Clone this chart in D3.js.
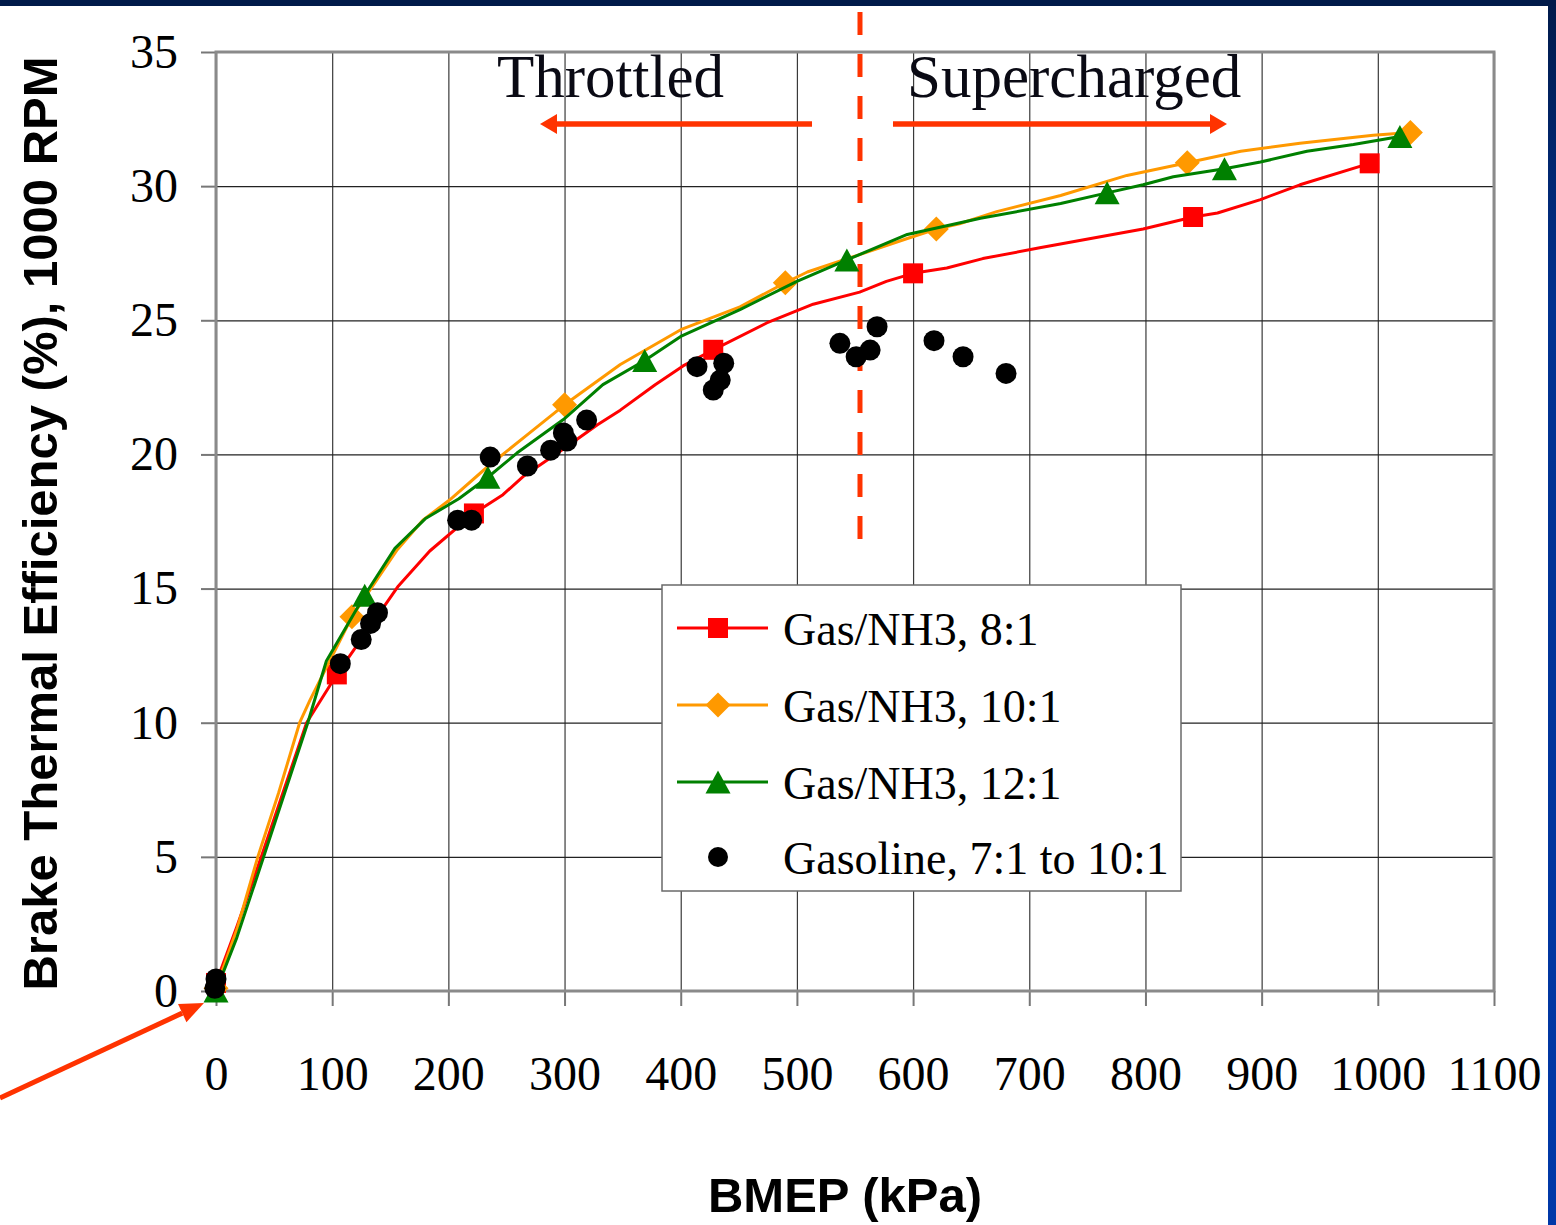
<!DOCTYPE html>
<html><head><meta charset="utf-8">
<script src="https://cdn.jsdelivr.net/npm/d3@7"></script>
<style>
html,body{margin:0;padding:0;background:#fff;}
svg{display:block;}
</style>
</head><body>
<svg id="c" width="1556" height="1225"></svg>
<script>
// ---- data ----
const xTicks = [0,100,200,300,400,500,600,700,800,900,1000,1100];
const yTicks = [0,5,10,15,20,25,30,35];

const seriesNames = ["Gas/NH3, 8:1","Gas/NH3, 10:1","Gas/NH3, 12:1","Gasoline, 7:1 to 10:1"];

const nh3_8_line = [[0,0.3],[18,2.4],[39,5],[78,10],[104,11.8],[157,15.1],[184,16.4],[222,17.8],[247,18.5],[265,19.2],[299,20.2],[328,21.1],[348,21.65],[378,22.6],[402,23.3],[428,23.9],[474,24.9],[514,25.6],[554,26.05],[577,26.45],[600,26.75],[629,26.95],[660,27.3],[709,27.7],[798,28.4],[841,28.85],[862,29.0],[899,29.5],[933,30.05],[993,30.85]];
const nh3_8_marks = [[0,0.3],[104,11.8],[222,17.8],[428,23.9],[600,26.75],[841,28.85],[993,30.85]];

const nh3_10_line = [[0,0.1],[18,2.3],[36,5],[54,7.4],[72,10],[81,10.85],[117,13.95],[156,16.45],[178,17.55],[201,18.3],[234,19.55],[267,20.7],[300,21.85],[348,23.35],[400,24.65],[451,25.5],[490,26.4],[509,26.8],[554,27.45],[595,28.05],[620,28.4],[640,28.6],[672,29.05],[727,29.65],[784,30.4],[836,30.87],[882,31.3],[933,31.6],[996,31.9],[1028,32.0]];
const nh3_10_marks = [[0,0.1],[117,13.95],[300,21.85],[490,26.4],[620,28.4],[836,30.87],[1028,32.0]];

const nh3_12_line = [[0,0],[18,2.0],[41,5],[79,10],[95,12.3],[128,14.75],[154,16.5],[180,17.6],[209,18.35],[234,19.15],[259,20.05],[299,21.3],[333,22.6],[369,23.5],[400,24.4],[451,25.4],[500,26.45],[543,27.25],[595,28.2],[658,28.8],[727,29.35],[767,29.75],[798,30.05],[824,30.35],[868,30.65],[899,30.9],[939,31.3],[979,31.55],[1019,31.85]];
const nh3_12_marks = [[0,0],[128,14.75],[234,19.15],[369,23.5],[543,27.25],[767,29.75],[868,30.65],[1019,31.85]];

const gasoline = [[0,0.45],[-1,0.1],[107,12.2],[125,13.1],[133,13.7],[139,14.1],[208,17.55],[220,17.55],[236,19.9],[268,19.57],[288,20.16],[299,20.8],[302,20.5],[319,21.28],[414,23.27],[437,23.4],[434,22.77],[428,22.4],[537,24.14],[551,23.64],[563,23.89],[569,24.76],[618,24.24],[643,23.64],[680,23.02]];

// annotation positions (data units)
const boundaryBMEP = 554.3;
const annotations = {throttled:"Throttled", supercharged:"Supercharged"};

// ---- drawing ----
const svg = d3.select("#c");
const L=216, R=1494, T=52, B=991;
const x = d3.scaleLinear().domain([0,1100]).range([L,R]);
const y = d3.scaleLinear().domain([0,35]).range([B,T]);
const ORANGE_RED = "#FF3300";

// frame decorations
const defs = svg.append("defs");
const grad = defs.append("linearGradient").attr("id","rg").attr("x1",0).attr("y1",0).attr("x2",0).attr("y2",1);
grad.append("stop").attr("offset","0").attr("stop-color","#001a4a");
grad.append("stop").attr("offset","0.25").attr("stop-color","#00318f");
grad.append("stop").attr("offset","1").attr("stop-color","#0038a8");
svg.append("rect").attr("x",0).attr("y",0).attr("width",1556).attr("height",1225).attr("fill","#fff");
svg.append("rect").attr("x",1548).attr("y",0).attr("width",8).attr("height",1225).attr("fill","url(#rg)");
svg.append("rect").attr("x",0).attr("y",0).attr("width",1556).attr("height",6).attr("fill","#001a4a");

// gridlines
svg.append("g").attr("transform",`translate(0,${B})`)
  .call(d3.axisBottom(x).tickValues(xTicks).tickSize(-(B-T)).tickFormat(""))
  .call(g=>{g.select(".domain").remove(); g.selectAll("line").attr("stroke","#3a3a3a").attr("stroke-width",1.2);});
svg.append("g").attr("transform",`translate(${L},0)`)
  .call(d3.axisLeft(y).tickValues(yTicks).tickSize(-(R-L)).tickFormat(""))
  .call(g=>{g.select(".domain").remove(); g.selectAll("line").attr("stroke","#222").attr("stroke-width",1.2);});

// axes with ticks and labels
const tickFont = "'Liberation Serif','Times New Roman',serif";
svg.append("g").attr("transform",`translate(0,${B})`)
  .call(d3.axisBottom(x).tickValues(xTicks).tickSizeInner(15).tickSizeOuter(0).tickPadding(50).tickFormat(d3.format("d")))
  .call(g=>{g.select(".domain").remove();
    g.selectAll("line").attr("stroke","#777").attr("stroke-width",2);
    g.selectAll("text").attr("font-family",tickFont).attr("font-size",48).attr("fill","#000");});
svg.append("g").attr("transform",`translate(${L},0)`)
  .call(d3.axisLeft(y).tickValues(yTicks).tickSizeInner(15).tickSizeOuter(0).tickPadding(23).tickFormat(d3.format("d")))
  .call(g=>{g.select(".domain").remove();
    g.selectAll("line").attr("stroke","#777").attr("stroke-width",2);
    g.selectAll("text").attr("font-family",tickFont).attr("font-size",48).attr("fill","#000");});

// plot frame
svg.append("rect").attr("x",L).attr("y",T).attr("width",R-L).attr("height",B-T)
  .attr("fill","none").attr("stroke","#8a8a8a").attr("stroke-width",3);

// axis titles
svg.append("text").attr("transform",`translate(57,${(T+B)/2+2}) rotate(-90)`)
  .attr("text-anchor","middle").attr("font-family","'Liberation Sans',Arial,sans-serif")
  .attr("font-weight","bold").attr("font-size",49).attr("fill","#000")
  .text("Brake Thermal Efficiency (%), 1000 RPM");
svg.append("text").attr("x",845).attr("y",1212)
  .attr("text-anchor","middle").attr("font-family","'Liberation Sans',Arial,sans-serif")
  .attr("font-weight","bold").attr("font-size",49).attr("fill","#000")
  .text("BMEP (kPa)");

// dashed boundary
svg.append("line").attr("x1",x(boundaryBMEP)).attr("x2",x(boundaryBMEP)).attr("y1",12).attr("y2",540)
  .attr("stroke",ORANGE_RED).attr("stroke-width",5).attr("stroke-dasharray","23,19");

// region labels & arrows
svg.append("text").attr("x",497).attr("y",97).attr("font-family",tickFont).attr("font-size",61).attr("fill","#0a0a14").text(annotations.throttled);
svg.append("text").attr("x",907).attr("y",97).attr("font-family",tickFont).attr("font-size",61).attr("fill","#0a0a14").text(annotations.supercharged);
function hArrow(x1,x2,yy){
  const dir = Math.sign(x2-x1), hl=17, hw=10;
  svg.append("line").attr("x1",x1).attr("x2",x2-dir*hl+dir*1).attr("y1",yy).attr("y2",yy).attr("stroke",ORANGE_RED).attr("stroke-width",5.5);
  svg.append("path").attr("d",`M${x2},${yy} L${x2-dir*hl},${yy-hw} L${x2-dir*hl},${yy+hw} Z`).attr("fill",ORANGE_RED);
}
const arrowY = y(32.32);
hArrow(x(513), x(278.9), arrowY);
hArrow(x(582.7), x(870.2), arrowY);

// bottom-left pointer arrow
(function(){
  const x1=0,y1=1098,x2=204,y2=1003;
  const ang=Math.atan2(y2-y1,x2-x1), hl=24, hw=10;
  const bx=x2-hl*Math.cos(ang), by=y2-hl*Math.sin(ang);
  svg.append("line").attr("x1",x1).attr("y1",y1).attr("x2",bx).attr("y2",by).attr("stroke",ORANGE_RED).attr("stroke-width",5);
  const px=-Math.sin(ang)*hw, py=Math.cos(ang)*hw;
  svg.append("path").attr("d",`M${x2},${y2} L${bx+px},${by+py} L${bx-px},${by-py} Z`).attr("fill",ORANGE_RED);
})();

// series
const line = d3.line().x(d=>x(d[0])).y(d=>y(d[1]));
function sq(s){return `M${-s/2},${-s/2}h${s}v${s}h${-s}Z`;}
function dia(s){return `M0,${-s/2}L${s/2},0L0,${s/2}L${-s/2},0Z`;}
function tri(w,h){return `M0,${-h/2}L${w/2},${h/2}L${-w/2},${h/2}Z`;}
const series = [
  {line:nh3_8_line, marks:nh3_8_marks, color:"#FF0000", shape:sq(20)},
  {line:nh3_10_line, marks:nh3_10_marks, color:"#FF9900", shape:dia(25)},
  {line:nh3_12_line, marks:nh3_12_marks, color:"#008000", shape:tri(25,23)}
];
series.forEach(s=>{
  const g=svg.append("g");
  g.append("path").datum(s.line).attr("d",line).attr("fill","none").attr("stroke",s.color).attr("stroke-width",3).attr("stroke-linejoin","round");
  g.selectAll("path.m").data(s.marks).join("path").attr("class","m")
    .attr("transform",d=>`translate(${x(d[0])},${y(d[1])})`).attr("d",s.shape).attr("fill",s.color);
});
svg.append("g").selectAll("circle").data(gasoline).join("circle")
  .attr("cx",d=>x(d[0])).attr("cy",d=>y(d[1])).attr("r",10.5).attr("fill","#000");

// legend
const lg = svg.append("g");
lg.append("rect").attr("x",662).attr("y",585).attr("width",519).attr("height",306)
  .attr("fill","#fff").attr("stroke","#6a6a6a").attr("stroke-width",1.5);
const rowsY=[628,705,782,857];
const legendShapes=[sq(20),dia(25),tri(25,23)];
const legendColors=["#FF0000","#FF9900","#008000","#000"];
seriesNames.forEach((n,i)=>{
  const yy=rowsY[i];
  if(i<3){
    lg.append("line").attr("x1",677).attr("x2",768).attr("y1",yy).attr("y2",yy).attr("stroke",legendColors[i]).attr("stroke-width",3);
    lg.append("path").attr("transform",`translate(718,${yy})`).attr("d",legendShapes[i]).attr("fill",legendColors[i]);
  } else {
    lg.append("circle").attr("cx",718).attr("cy",yy).attr("r",10).attr("fill","#000");
  }
  lg.append("text").attr("x",783).attr("y",yy+17).attr("font-family",tickFont).attr("font-size",46).attr("fill","#000").text(n);
});
</script>
</body></html>
